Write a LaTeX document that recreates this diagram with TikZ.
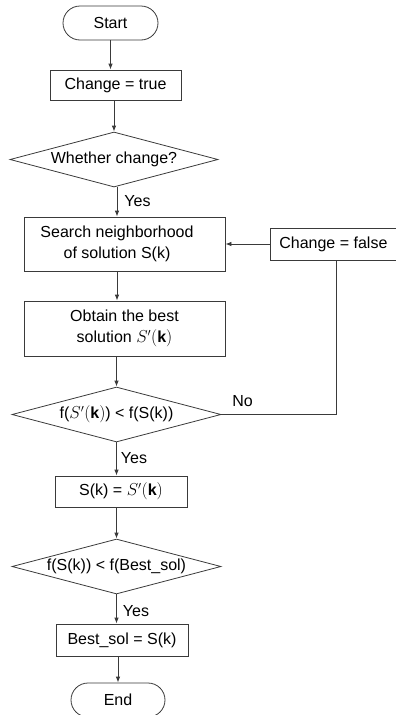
\documentclass[tikz,border=0pt]{standalone}
\usepackage{fontspec}
\setmainfont{Liberation Sans}
\usetikzlibrary{shapes.geometric,arrows.meta}
\definecolor{ln}{HTML}{3A3A3A}
\tikzset{
  base/.style={draw=ln, line width=0.8pt, font=\fontsize{16}{20.5}\selectfont, inner sep=0pt, align=center},
  procbox/.style={base, rectangle},
  termbox/.style={base, rectangle, rounded corners=17pt},
  decbox/.style={base, diamond, aspect=3.8},
  arr/.style={draw=ln, line width=0.8pt, -{Latex[length=6pt,width=4.5pt]}},
  conn/.style={draw=ln, line width=0.8pt},
  lbl/.style={font=\fontsize{16}{20.5}\selectfont, inner sep=0pt}
}
\begin{document}
\begin{tikzpicture}[x=1pt,y=-1pt]
\useasboundingbox (0,0) rectangle (396,715);
\node[termbox, minimum width=95pt, minimum height=34pt] (start) at (110.5,23) {Start};
\node[procbox, minimum width=131pt, minimum height=30pt] (ctrue) at (115.5,85) {Change = true};
\node[decbox, minimum width=208pt, minimum height=55pt] (d1) at (114,159.5) {Whether change?};
\node[procbox, minimum width=201pt, minimum height=54pt] (search) at (124.5,244) {};
\node[lbl, align=center] (searchtxt) at (117,244) {Search neighborhood\\of solution S(k)};
\node[procbox, minimum width=128pt, minimum height=32pt, anchor=west] (cfalse) at (270,244) {\hspace*{-2pt}Change = false};
\node[procbox, minimum width=201pt, minimum height=55pt] (obtain) at (124.5,328.5) {Obtain the best\\solution $S'(\mathbf{k})$};
\node[decbox, minimum width=209pt, minimum height=55pt] (d2) at (116.5,414.5) {f($S'(\mathbf{k})$) < f(S(k))};
\node[procbox, minimum width=132pt, minimum height=31pt] (sk) at (121,491.5) {S(k) = $S'(\mathbf{k})$};
\node[decbox, minimum width=209pt, minimum height=55pt] (d3) at (116.5,566.5) {f(S(k)) < f(Best\_sol)};
\node[procbox, minimum width=132pt, minimum height=32pt] (best) at (122,640) {Best\_sol = S(k)};
\node[termbox, minimum width=94pt, minimum height=34pt] (end) at (118,700) {End};
\coordinate (nc) at (336,414.5);

\draw[arr] (start.south) -- (start.south |- ctrue.north);
\draw[arr] (d1.north |- ctrue.south) -- (d1.north);
\draw[arr] (searchtxt |- d1.south) -- (searchtxt |- search.north);
\draw[arr] (searchtxt |- search.south) -- (searchtxt |- obtain.north);
\draw[arr] (d2.north |- obtain.south) -- (d2.north);
\draw[arr] (d2.south) -- (d2.south |- sk.north);
\draw[arr] (d3.north |- sk.south) -- (d3.north);
\draw[arr] (d3.south) -- (d3.south |- best.north);
\draw[arr] (end.north |- best.south) -- (end.north);
\draw[arr] (cfalse.west) -- (search.east);
\draw[conn] (d2.east) -- (nc) -- (nc |- cfalse.south);

\node[lbl] (yes1) at (137.5,201) {Yes};
\node[lbl] (no) at (242.5,401) {No};
\node[lbl] (yes2) at (134,458) {Yes};
\node[lbl] (yes3) at (136,611) {Yes};
\end{tikzpicture}
\end{document}
